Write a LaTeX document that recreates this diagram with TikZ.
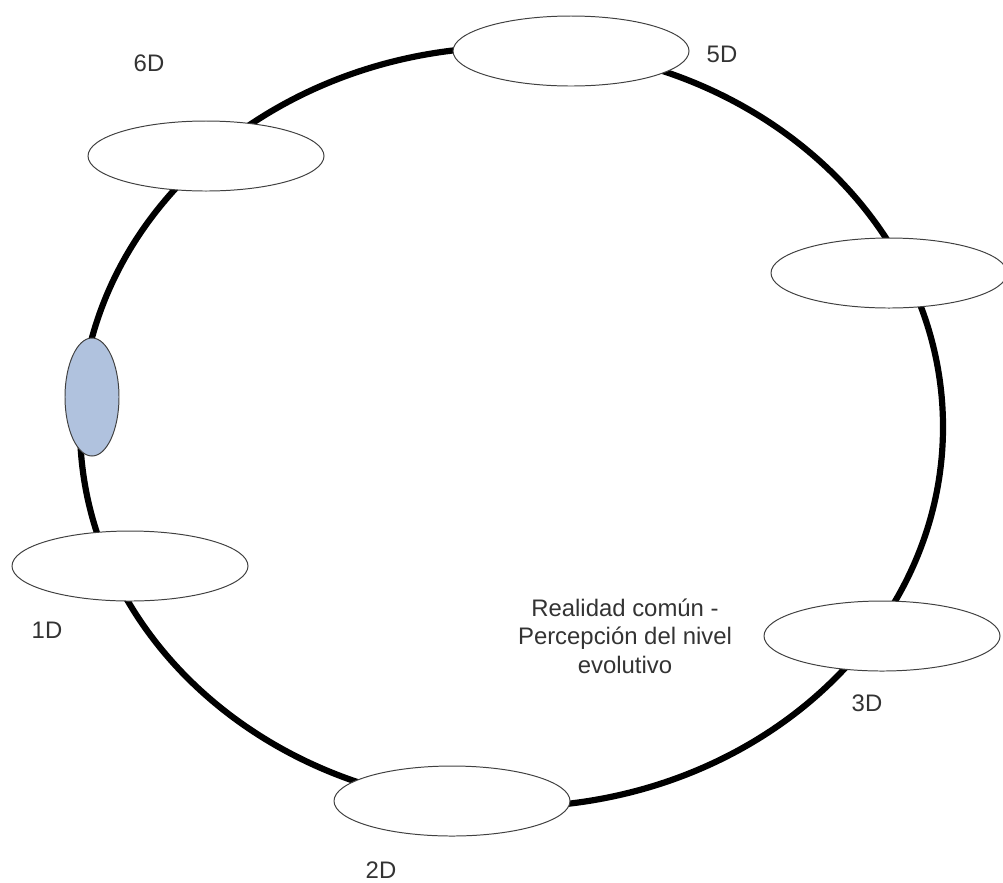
\documentclass[tikz,border=0pt]{standalone}
\usepackage{fontspec}
\setmainfont{Liberation Sans}
\usetikzlibrary{shapes.geometric,positioning}

\definecolor{dimblue}{RGB}{176,194,222}

\begin{document}
\begin{tikzpicture}[x=0.25mm,y=-0.25mm,
		every node/.style={font=\fontsize{17pt}{20.3pt}\selectfont,text=black!80},
		dim/.style={ellipse,draw=black!75,line width=0.7pt,fill=white,inner sep=0pt,minimum width=59mm,minimum height=17.5mm},
		dimlabel/.style={inner sep=0pt}]
			\useasboundingbox (0,0) rectangle (1003,882);
			% the cycle
			\draw[line width=1.55mm] (511.5,427) ellipse (431.5 and 380);

			\node[dim]                 (FiveD)  at (571,51)  {};
			\node[dim]                 (SixD)   at (206,156) {};
			\node[dim]                 (FourD)  at (889,273) {};
			\node[dim,fill=dimblue,minimum width=13.5mm,minimum height=29.5mm]
			                           (Here)   at (92,397)  {};
			\node[dim]                 (OneD)   at (130,566) {};
			\node[dim]                 (ThreeD) at (882,636) {};
			\node[dim]                 (TwoD)   at (452,801) {};

			\node[dimlabel] at (149,63)  {6D};
			\node[dimlabel] at (722,54)  {5D};
			\node[dimlabel] at (47,630)  {1D};
			\node[dimlabel] at (867,703) {3D};
			\node[dimlabel] at (381,870) {2D};

			\node[align=center] (Reality) at (625,636) {Realidad común -\\ Percepción del nivel\\ evolutivo};
		\end{tikzpicture}
\end{document}
